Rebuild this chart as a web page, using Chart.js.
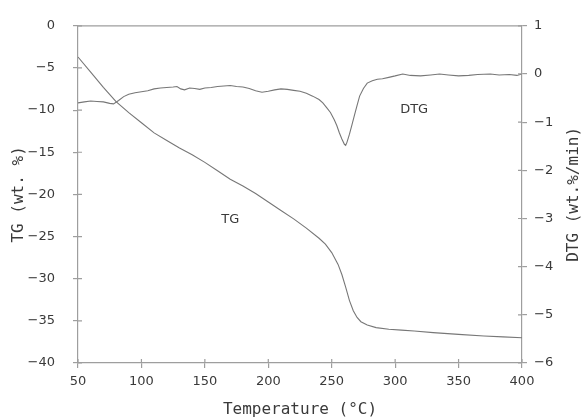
<!DOCTYPE html>
<html>
<head>
<meta charset="utf-8">
<script src="https://cdn.jsdelivr.net/npm/chart.js@4.4.1/dist/chart.umd.min.js"></script>
<style>
html,body{margin:0;padding:0;background:#fff;}
#wrap{width:581px;height:419px;}
</style>
</head>
<body>
<div id="wrap"><canvas id="c" width="581" height="419"></canvas></div>
<script>
// Temperature (°C) and TG (wt. %)
const tgTemp = [50,60,70,80,90,100,110,120,130,140,150,160,170,180,190,200,210,220,230,240,245,250,255,258,261,264,267,270,273,278,285,295,305,315,330,350,370,385,400];
const tgValues = [-3.7,-5.5,-7.3,-9.0,-10.3,-11.5,-12.7,-13.6,-14.5,-15.3,-16.2,-17.2,-18.2,-19.0,-19.9,-20.9,-21.9,-22.9,-24.0,-25.2,-25.9,-26.9,-28.3,-29.5,-31.0,-32.6,-33.8,-34.6,-35.1,-35.5,-35.8,-36.0,-36.1,-36.2,-36.4,-36.6,-36.8,-36.9,-37.0];
// Temperature (°C) and DTG (wt.%/min)
const dtgTemp = [50,55,60,65,70,75,78,82,86,90,95,100,105,110,115,120,125,128,131,134,138,142,146,150,155,160,165,170,175,180,185,190,195,200,205,210,215,220,225,230,235,240,243,246,249,252,254,256,258,260,261,262,264,266,268,270,272,275,278,282,286,290,295,300,306,312,320,328,335,342,350,358,365,375,382,390,396,400];
const dtgValues = [-0.60,-0.58,-0.56,-0.57,-0.58,-0.61,-0.62,-0.55,-0.47,-0.42,-0.39,-0.37,-0.35,-0.31,-0.29,-0.28,-0.27,-0.26,-0.31,-0.33,-0.29,-0.30,-0.32,-0.29,-0.28,-0.26,-0.25,-0.24,-0.26,-0.27,-0.30,-0.35,-0.38,-0.36,-0.33,-0.31,-0.32,-0.34,-0.36,-0.40,-0.46,-0.53,-0.60,-0.70,-0.80,-0.95,-1.07,-1.22,-1.35,-1.46,-1.48,-1.42,-1.25,-1.05,-0.85,-0.65,-0.46,-0.30,-0.19,-0.14,-0.11,-0.10,-0.07,-0.04,0.00,-0.03,-0.04,-0.02,0.00,-0.02,-0.04,-0.03,-0.01,0.00,-0.02,-0.01,-0.03,0.00];
// Axis settings / labels
const xTicks = [50,100,150,200,250,300,350,400];
const tgTicks = [0,-5,-10,-15,-20,-25,-30,-35,-40];
const dtgTicks = [1,0,-1,-2,-3,-4,-5,-6];
const xTitle = 'Temperature (°C)';
const yLeftTitle = 'TG (wt. %)';
const yRightTitle = 'DTG (wt.%/min)';
const seriesLabels = ['TG','DTG'];

const AXIS = '#9e9e9e';
const LINE = '#777777';
const TEXT = '#3a3a3a';
const TICKFONT = {family:'DejaVu Sans', size:13};
const TITLEFONT = '16px "DejaVu Sans Mono"';

const fmt = v => String(v).replace('-', '\u2212');

const decor = {
  id:'decor',
  afterDraw(chart){
    const ctx = chart.ctx, a = chart.chartArea;
    const sx = chart.scales.x, yl = chart.scales.y, yr = chart.scales.y2;
    ctx.save();
    ctx.strokeStyle = AXIS; ctx.lineWidth = 1.2;
    // top border
    ctx.beginPath(); ctx.moveTo(a.left, a.top); ctx.lineTo(a.right, a.top); ctx.stroke();
    // inner tick halves
    ctx.beginPath();
    xTicks.forEach(v => { const p = sx.getPixelForValue(v); ctx.moveTo(p, a.bottom); ctx.lineTo(p, a.bottom-4); });
    tgTicks.forEach(v => { const p = yl.getPixelForValue(v); ctx.moveTo(a.left, p); ctx.lineTo(a.left+4, p); });
    dtgTicks.forEach(v => { const p = yr.getPixelForValue(v); ctx.moveTo(a.right, p); ctx.lineTo(a.right-4, p); });
    ctx.stroke();
    // titles
    const cy = (a.top+a.bottom)/2;
    ctx.fillStyle = TEXT; ctx.font = TITLEFONT; ctx.textAlign='center'; ctx.textBaseline='middle';
    ctx.fillText(xTitle, (a.left+a.right)/2, 410);
    ctx.save(); ctx.translate(19, cy); ctx.rotate(-Math.PI/2); ctx.fillText(yLeftTitle, 0, 0); ctx.restore();
    ctx.save(); ctx.translate(574, cy); ctx.rotate(-Math.PI/2); ctx.fillText(yRightTitle, 0, 0); ctx.restore();
    // series labels
    ctx.font = '13px "DejaVu Sans"';
    ctx.fillText(seriesLabels[0], sx.getPixelForValue(170), yl.getPixelForValue(-23));
    ctx.fillText(seriesLabels[1], sx.getPixelForValue(315), yr.getPixelForValue(-0.75));
    ctx.restore();
  }
};

new Chart(document.getElementById('c'), {
  type:'line',
  data:{
    datasets:[
      {label:seriesLabels[0], data:tgTemp.map((t,i)=>({x:t,y:tgValues[i]})), yAxisID:'y', borderColor:LINE, borderWidth:1.1, pointRadius:0, tension:0, fill:false},
      {label:seriesLabels[1], data:dtgTemp.map((t,i)=>({x:t,y:dtgValues[i]})), yAxisID:'y2', borderColor:LINE, borderWidth:1.1, pointRadius:0, tension:0, fill:false}
    ]
  },
  options:{
    responsive:false, animation:false, devicePixelRatio:1,
    layout:{padding:{top:22,left:0,right:0,bottom:0}},
    plugins:{legend:{display:false}, tooltip:{enabled:false}},
    scales:{
      x:{type:'linear', min:50, max:400,
        afterBuildTicks: s => { s.ticks = xTicks.map(v=>({value:v})); },
        afterFit: s => { s.height = 56; },
        border:{color:AXIS, width:1.2},
        grid:{drawOnChartArea:false, drawTicks:true, tickLength:5, color:AXIS, lineWidth:1.2},
        ticks:{color:TEXT, font:TICKFONT, padding:6, maxRotation:0, callback:v=>fmt(v)}
      },
      y:{type:'linear', position:'left', min:-40, max:0,
        afterBuildTicks: s => { s.ticks = tgTicks.map(v=>({value:v})); },
        afterFit: s => { s.width = 78; },
        border:{color:AXIS, width:1.2},
        grid:{drawOnChartArea:false, drawTicks:true, tickLength:5, color:AXIS, lineWidth:1.2},
        ticks:{color:TEXT, font:TICKFONT, padding:18, callback:v=>fmt(v)}
      },
      y2:{type:'linear', position:'right', min:-6, max:1,
        afterBuildTicks: s => { s.ticks = dtgTicks.map(v=>({value:v})); },
        afterFit: s => { s.width = 59; },
        border:{color:AXIS, width:1.2},
        grid:{drawOnChartArea:false, drawTicks:true, tickLength:5, color:AXIS, lineWidth:1.2},
        ticks:{color:TEXT, font:TICKFONT, padding:7, callback:v=>fmt(v)}
      }
    }
  },
  plugins:[decor]
});
</script>
</body>
</html>
